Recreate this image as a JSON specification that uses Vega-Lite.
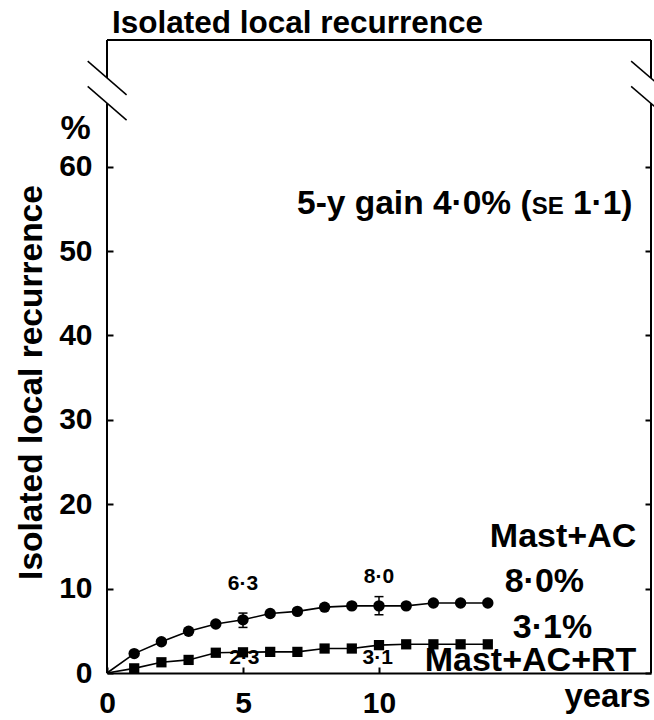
{
  "$schema": "https://vega.github.io/schema/vega-lite/v6.json",
  "width": 544,
  "height": 633,
  "autosize": {"type": "none"},
  "padding": {"left": 107, "top": 40, "right": 3, "bottom": 47},
  "background": "white",
  "config": {"view": {"stroke": null}, "font": "Liberation Sans", "axis": {"grid": false}},
  "resolve": {"axis": {"y": "independent"}},
  "datasets": {
    "curves": [
      {"group": "Mast+AC", "year": 0, "value": 0},
      {"group": "Mast+AC", "year": 1, "value": 2.3},
      {"group": "Mast+AC", "year": 2, "value": 3.7},
      {"group": "Mast+AC", "year": 3, "value": 4.95},
      {"group": "Mast+AC", "year": 4, "value": 5.8},
      {"group": "Mast+AC", "year": 5, "value": 6.3},
      {"group": "Mast+AC", "year": 6, "value": 7.05},
      {"group": "Mast+AC", "year": 7, "value": 7.3},
      {"group": "Mast+AC", "year": 8, "value": 7.8},
      {"group": "Mast+AC", "year": 9, "value": 7.95},
      {"group": "Mast+AC", "year": 10, "value": 7.95},
      {"group": "Mast+AC", "year": 11, "value": 7.95},
      {"group": "Mast+AC", "year": 12, "value": 8.3},
      {"group": "Mast+AC", "year": 13, "value": 8.3},
      {"group": "Mast+AC", "year": 14, "value": 8.3},
      {"group": "Mast+AC+RT", "year": 0, "value": 0},
      {"group": "Mast+AC+RT", "year": 1, "value": 0.55},
      {"group": "Mast+AC+RT", "year": 2, "value": 1.27},
      {"group": "Mast+AC+RT", "year": 3, "value": 1.55},
      {"group": "Mast+AC+RT", "year": 4, "value": 2.4},
      {"group": "Mast+AC+RT", "year": 5, "value": 2.45},
      {"group": "Mast+AC+RT", "year": 6, "value": 2.5},
      {"group": "Mast+AC+RT", "year": 7, "value": 2.5},
      {"group": "Mast+AC+RT", "year": 8, "value": 2.9},
      {"group": "Mast+AC+RT", "year": 9, "value": 2.9},
      {"group": "Mast+AC+RT", "year": 10, "value": 3.3},
      {"group": "Mast+AC+RT", "year": 11, "value": 3.4},
      {"group": "Mast+AC+RT", "year": 12, "value": 3.4},
      {"group": "Mast+AC+RT", "year": 13, "value": 3.4},
      {"group": "Mast+AC+RT", "year": 14, "value": 3.4}
    ],
    "errbars": [
      {"year": 5, "lo": 5.4, "hi": 7.1},
      {"year": 10, "lo": 6.9, "hi": 9.05}
    ],
    "frameLeft": [
      {"x": 0, "x2": 20, "y": 75, "y2": 75},
      {"x": 0, "x2": 0, "y": 0, "y2": 67.5},
      {"x": 0, "x2": 0, "y": 70.5, "y2": 75}
    ],
    "frameRight": [
      {"x": 20, "y": 0, "y2": 67.5},
      {"x": 20, "y": 70.5, "y2": 75}
    ],
    "breaks": [
      {"x": -0.71, "x2": 0.72, "y": 72.5, "y2": 68.5},
      {"x": -0.71, "x2": 0.72, "y": 69.5, "y2": 65.5},
      {"x": 19.27, "x2": 20.72, "y": 72.5, "y2": 68.5},
      {"x": 19.27, "x2": 20.72, "y": 69.5, "y2": 65.5}
    ],
    "headline": [
      {"x": 0.18, "y": 75.86, "t": "Isolated local recurrence"}
    ],
    "smallLabels": [
      {"x": 5, "y": 10.6, "t": "6·3"},
      {"x": 10, "y": 11.4, "t": "8·0"},
      {"x": 5.05, "y": 1.74, "t": "2·3"},
      {"x": 9.95, "y": 1.74, "t": "3·1"}
    ],
    "rightLabels": [
      {"x": 19.46, "y": 16.1, "t": "Mast+AC"},
      {"x": 19.46, "y": 1.44, "t": "Mast+AC+RT"}
    ],
    "pctLabels": [
      {"x": 16.08, "y": 10.8, "t": "8·0%"},
      {"x": 16.38, "y": 5.29, "t": "3·1%"},
      {"x": -1.15, "y": 64.5, "t": "%"}
    ],
    "gainMain": [
      {"x": 15.61, "y": 55.6, "t": "5-y gain 4·0% ("},
      {"x": 19.32, "y": 55.6, "t": " 1·1)"}
    ],
    "gainSE": [
      {"x": 16.79, "y": 55.6, "t": "SE"}
    ]
  },
  "layer": [
    {
      "data": {"name": "frameLeft"},
      "mark": {"type": "rule", "color": "black", "strokeWidth": 2},
      "encoding": {
        "x": {"field": "x", "type": "quantitative", "scale": {"domain": [0, 20], "nice": false, "zero": false},
          "axis": {"values": [0, 5, 10], "domain": true, "domainColor": "black", "domainWidth": 2, "tickSize": -6, "tickWidth": 2, "tickColor": "black", "labelFontSize": 30, "labelFontWeight": "bold", "labelColor": "black", "labelFont": "Liberation Sans", "labelPadding": 21, "labelFlush": false, "title": "years", "titleFontSize": 33, "titleFontWeight": "bold", "titleFont": "Liberation Sans", "titleColor": "black", "titleX": 500, "titleY": 33, "titleBaseline": "alphabetic", "titleAlign": "center", "titleAnchor": null}},
        "x2": {"field": "x2"},
        "y": {"field": "y", "type": "quantitative", "scale": {"domain": [0, 75], "nice": false, "zero": false},
          "axis": {"orient": "left", "values": [0, 10, 20, 30, 40, 50, 60], "domain": false, "tickSize": -6, "tickWidth": 2, "tickColor": "black", "labelFontSize": 30, "labelFontWeight": "bold", "labelColor": "black", "labelFont": "Liberation Sans", "labelPadding": 21, "title": "Isolated local recurrence", "titleFontSize": 33.5, "titleFontWeight": "bold", "titleFont": "Liberation Sans", "titleColor": "black", "titleX": -76, "titleY": 342, "titleBaseline": "middle", "titleAlign": "center", "titleAngle": 270}},
        "y2": {"field": "y2"}
      }
    },
    {
      "data": {"name": "frameRight"},
      "mark": {"type": "rule", "color": "black", "strokeWidth": 2},
      "encoding": {
        "x": {"field": "x", "type": "quantitative"},
        "y": {"field": "y", "type": "quantitative",
          "axis": {"orient": "right", "values": [0, 10, 20, 30, 40, 50, 60], "domain": false, "labels": false, "tickSize": -6, "tickWidth": 2, "tickColor": "black", "title": null}},
        "y2": {"field": "y2"}
      }
    },
    {
      "data": {"name": "breaks"},
      "mark": {"type": "rule", "color": "black", "strokeWidth": 1.5},
      "encoding": {
        "x": {"field": "x", "type": "quantitative"},
        "x2": {"field": "x2"},
        "y": {"field": "y", "type": "quantitative", "axis": null},
        "y2": {"field": "y2"}
      }
    },
    {
      "data": {"name": "curves"},
      "mark": {"type": "line", "color": "black", "strokeWidth": 1.6},
      "encoding": {
        "x": {"field": "year", "type": "quantitative"},
        "y": {"field": "value", "type": "quantitative", "axis": null},
        "detail": {"field": "group"}
      }
    },
    {
      "data": {"name": "errbars"},
      "mark": {"type": "rule", "color": "black", "strokeWidth": 1.5},
      "encoding": {
        "x": {"field": "year", "type": "quantitative"},
        "y": {"field": "lo", "type": "quantitative", "axis": null},
        "y2": {"field": "hi"}
      }
    },
    {
      "data": {"name": "errbars"},
      "mark": {"type": "point", "shape": "M-1,0L1,0", "size": 81, "filled": false, "color": "black", "strokeWidth": 1.5, "opacity": 1},
      "encoding": {
        "x": {"field": "year", "type": "quantitative"},
        "y": {"field": "lo", "type": "quantitative", "axis": null}
      }
    },
    {
      "data": {"name": "errbars"},
      "mark": {"type": "point", "shape": "M-1,0L1,0", "size": 81, "filled": false, "color": "black", "strokeWidth": 1.5, "opacity": 1},
      "encoding": {
        "x": {"field": "year", "type": "quantitative"},
        "y": {"field": "hi", "type": "quantitative", "axis": null}
      }
    },
    {
      "data": {"name": "curves"},
      "transform": [{"filter": "datum.group == 'Mast+AC' && datum.year > 0"}],
      "mark": {"type": "point", "shape": "circle", "filled": true, "size": 130, "color": "black", "opacity": 1},
      "encoding": {
        "x": {"field": "year", "type": "quantitative"},
        "y": {"field": "value", "type": "quantitative", "axis": null}
      }
    },
    {
      "data": {"name": "curves"},
      "transform": [{"filter": "datum.group == 'Mast+AC+RT' && datum.year > 0"}],
      "mark": {"type": "point", "shape": "square", "filled": true, "size": 105, "color": "black", "opacity": 1},
      "encoding": {
        "x": {"field": "year", "type": "quantitative"},
        "y": {"field": "value", "type": "quantitative", "axis": null}
      }
    },
    {
      "data": {"name": "headline"},
      "mark": {"type": "text", "fontSize": 31.5, "fontWeight": "bold", "font": "Liberation Sans", "color": "black", "align": "left", "baseline": "alphabetic"},
      "encoding": {
        "x": {"field": "x", "type": "quantitative"},
        "y": {"field": "y", "type": "quantitative", "axis": null},
        "text": {"field": "t"}
      }
    },
    {
      "data": {"name": "smallLabels"},
      "mark": {"type": "text", "fontSize": 21, "fontWeight": "bold", "font": "Liberation Sans", "color": "black", "align": "center", "baseline": "middle"},
      "encoding": {
        "x": {"field": "x", "type": "quantitative"},
        "y": {"field": "y", "type": "quantitative", "axis": null},
        "text": {"field": "t"}
      }
    },
    {
      "data": {"name": "rightLabels"},
      "mark": {"type": "text", "fontSize": 34, "fontWeight": "bold", "font": "Liberation Sans", "color": "black", "align": "right", "baseline": "middle"},
      "encoding": {
        "x": {"field": "x", "type": "quantitative"},
        "y": {"field": "y", "type": "quantitative", "axis": null},
        "text": {"field": "t"}
      }
    },
    {
      "data": {"name": "pctLabels"},
      "mark": {"type": "text", "fontSize": 34, "fontWeight": "bold", "font": "Liberation Sans", "color": "black", "align": "center", "baseline": "middle"},
      "encoding": {
        "x": {"field": "x", "type": "quantitative"},
        "y": {"field": "y", "type": "quantitative", "axis": null},
        "text": {"field": "t"}
      }
    },
    {
      "data": {"name": "gainMain"},
      "mark": {"type": "text", "fontSize": 33.5, "fontWeight": "bold", "font": "Liberation Sans", "color": "black", "align": "right", "baseline": "middle"},
      "encoding": {
        "x": {"field": "x", "type": "quantitative"},
        "y": {"field": "y", "type": "quantitative", "axis": null},
        "text": {"field": "t"}
      }
    },
    {
      "data": {"name": "gainSE"},
      "mark": {"type": "text", "fontSize": 24, "fontWeight": "bold", "font": "Liberation Sans", "color": "black", "align": "right", "baseline": "middle", "dy": 3},
      "encoding": {
        "x": {"field": "x", "type": "quantitative"},
        "y": {"field": "y", "type": "quantitative", "axis": null},
        "text": {"field": "t"}
      }
    }
  ]
}
